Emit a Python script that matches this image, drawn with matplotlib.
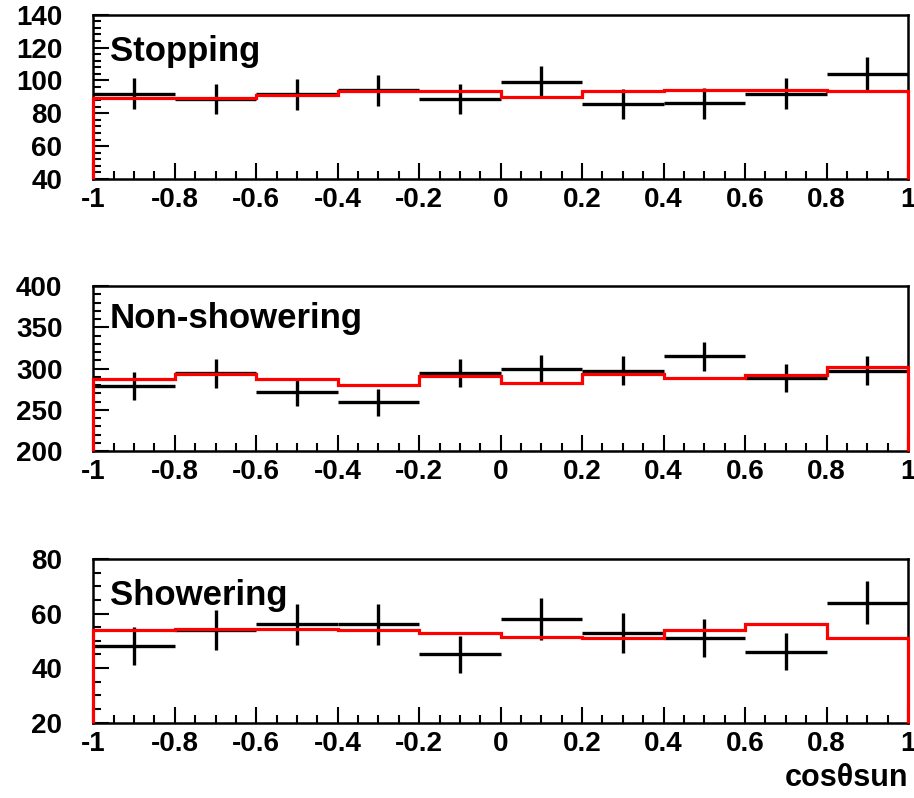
import numpy as np
import matplotlib
matplotlib.use('Agg')
import matplotlib.pyplot as plt
from matplotlib.ticker import MultipleLocator, FixedLocator, FixedFormatter

plt.rcParams['font.family'] = ['Liberation Sans', 'DejaVu Sans']
plt.rcParams['font.weight'] = 'bold'
plt.rcParams['axes.unicode_minus'] = False

# bin edges in cos(theta_sun)
bin_edges = [-1.0, -0.8, -0.6, -0.4, -0.2, 0.0, 0.2, 0.4, 0.6, 0.8, 1.0]
x_ticks = [-1.0, -0.8, -0.6, -0.4, -0.2, 0.0, 0.2, 0.4, 0.6, 0.8, 1.0]
x_tick_labels = ['-1', '-0.8', '-0.6', '-0.4', '-0.2', '0', '0.2', '0.4', '0.6', '0.8', '1']

# Stopping
stop_data = [92, 88.5, 91.5, 94, 88.5, 99, 85.5, 86, 92, 104]
stop_err = [9.3, 9.2, 9.4, 9.5, 9.2, 9.8, 9.1, 9.2, 9.4, 10]
stop_mc = [89.5, 89, 91.3, 93.7, 93.5, 90.2, 93.5, 94, 94.3, 93.3]

# Non-showering
nonsh_data = [279, 294, 271, 259, 294.5, 299.5, 297.5, 315, 289, 297.5]
nonsh_err = [16.7, 17.1, 16.5, 16.1, 17.1, 17.3, 17.2, 17.7, 17, 17.2]
nonsh_mc = [287.5, 293.5, 287.5, 279.5, 290.5, 282.5, 293.5, 288.5, 292.5, 301.5]

# Showering
show_data = [48, 54, 56, 56, 45, 58, 53, 51, 46, 64]
show_err = [6.9, 7.3, 7.5, 7.5, 6.7, 7.6, 7.3, 7.1, 6.8, 8]
show_mc = [54.1, 54.2, 54.2, 53.9, 53, 51.5, 51, 54, 56, 51]

fig = plt.figure(figsize=(9.14, 7.98), dpi=100)
all_axes = []


def draw_panel(rect, title, data, err, mc, y_lo, y_hi, y_major, y_minor, title_y):
    ax = fig.add_axes(rect)
    centers = [(bin_edges[i] + bin_edges[i + 1]) / 2 for i in range(len(data))]
    half_w = [(bin_edges[i + 1] - bin_edges[i]) / 2 for i in range(len(data))]

    ax.errorbar(centers, data, xerr=half_w, yerr=err, fmt='none', ecolor='black',
                elinewidth=2.4, capsize=0, zorder=2)
    ax.stairs(mc, bin_edges, baseline=y_lo, color='red', linewidth=2.3,
              fill=False, zorder=3, clip_on=False)

    ax.set_xlim(-1, 1)
    ax.set_ylim(y_lo, y_hi)

    ax.xaxis.set_major_locator(FixedLocator(x_ticks))
    ax.xaxis.set_major_formatter(FixedFormatter(x_tick_labels))
    ax.xaxis.set_minor_locator(MultipleLocator(0.05))
    ax.yaxis.set_major_locator(MultipleLocator(y_major))
    ax.yaxis.set_minor_locator(MultipleLocator(y_minor))

    ax.tick_params(axis='both', which='minor', direction='in', top=False, right=False,
                   length=5.5, width=1.5)
    ax.tick_params(axis='x', which='major', direction='in', top=False,
                   length=11.5, width=1.5, labelsize=20, pad=6)
    ax.tick_params(axis='y', which='major', direction='in', right=False,
                   length=11.5, width=1.5, labelsize=20, pad=0)

    for sp in ax.spines.values():
        sp.set_linewidth(1.8)

    ax.text(0.0205, title_y, title, transform=ax.transAxes, fontsize=25,
            fontweight='bold', ha='left', va='baseline', zorder=5)
    all_axes.append(ax)
    return ax


draw_panel([0.1021, 0.7757, 0.8913, 0.2059], 'Stopping', stop_data, stop_err, stop_mc,
           40, 140, 20, 4, 0.718)
draw_panel([0.1021, 0.4348, 0.8913, 0.2068], 'Non-showering', nonsh_data, nonsh_err, nonsh_mc,
           200, 400, 50, 10, 0.745)
draw_panel([0.1021, 0.0944, 0.8913, 0.2051], 'Showering', show_data, show_err, show_mc,
           20, 80, 20, 5, 0.72)

fig.text(908 / 914, 1 - 778 / 798, 'cosθsun', ha='right', va='center',
         fontsize=22, fontweight='bold')

# y labels sit well left of the frame, push them out in axes units
fig.canvas.draw()
for ax in all_axes:
    for t in ax.yaxis.get_major_ticks():
        t.label1.set_x(-0.038)

plt.savefig('out.png', dpi=100)
